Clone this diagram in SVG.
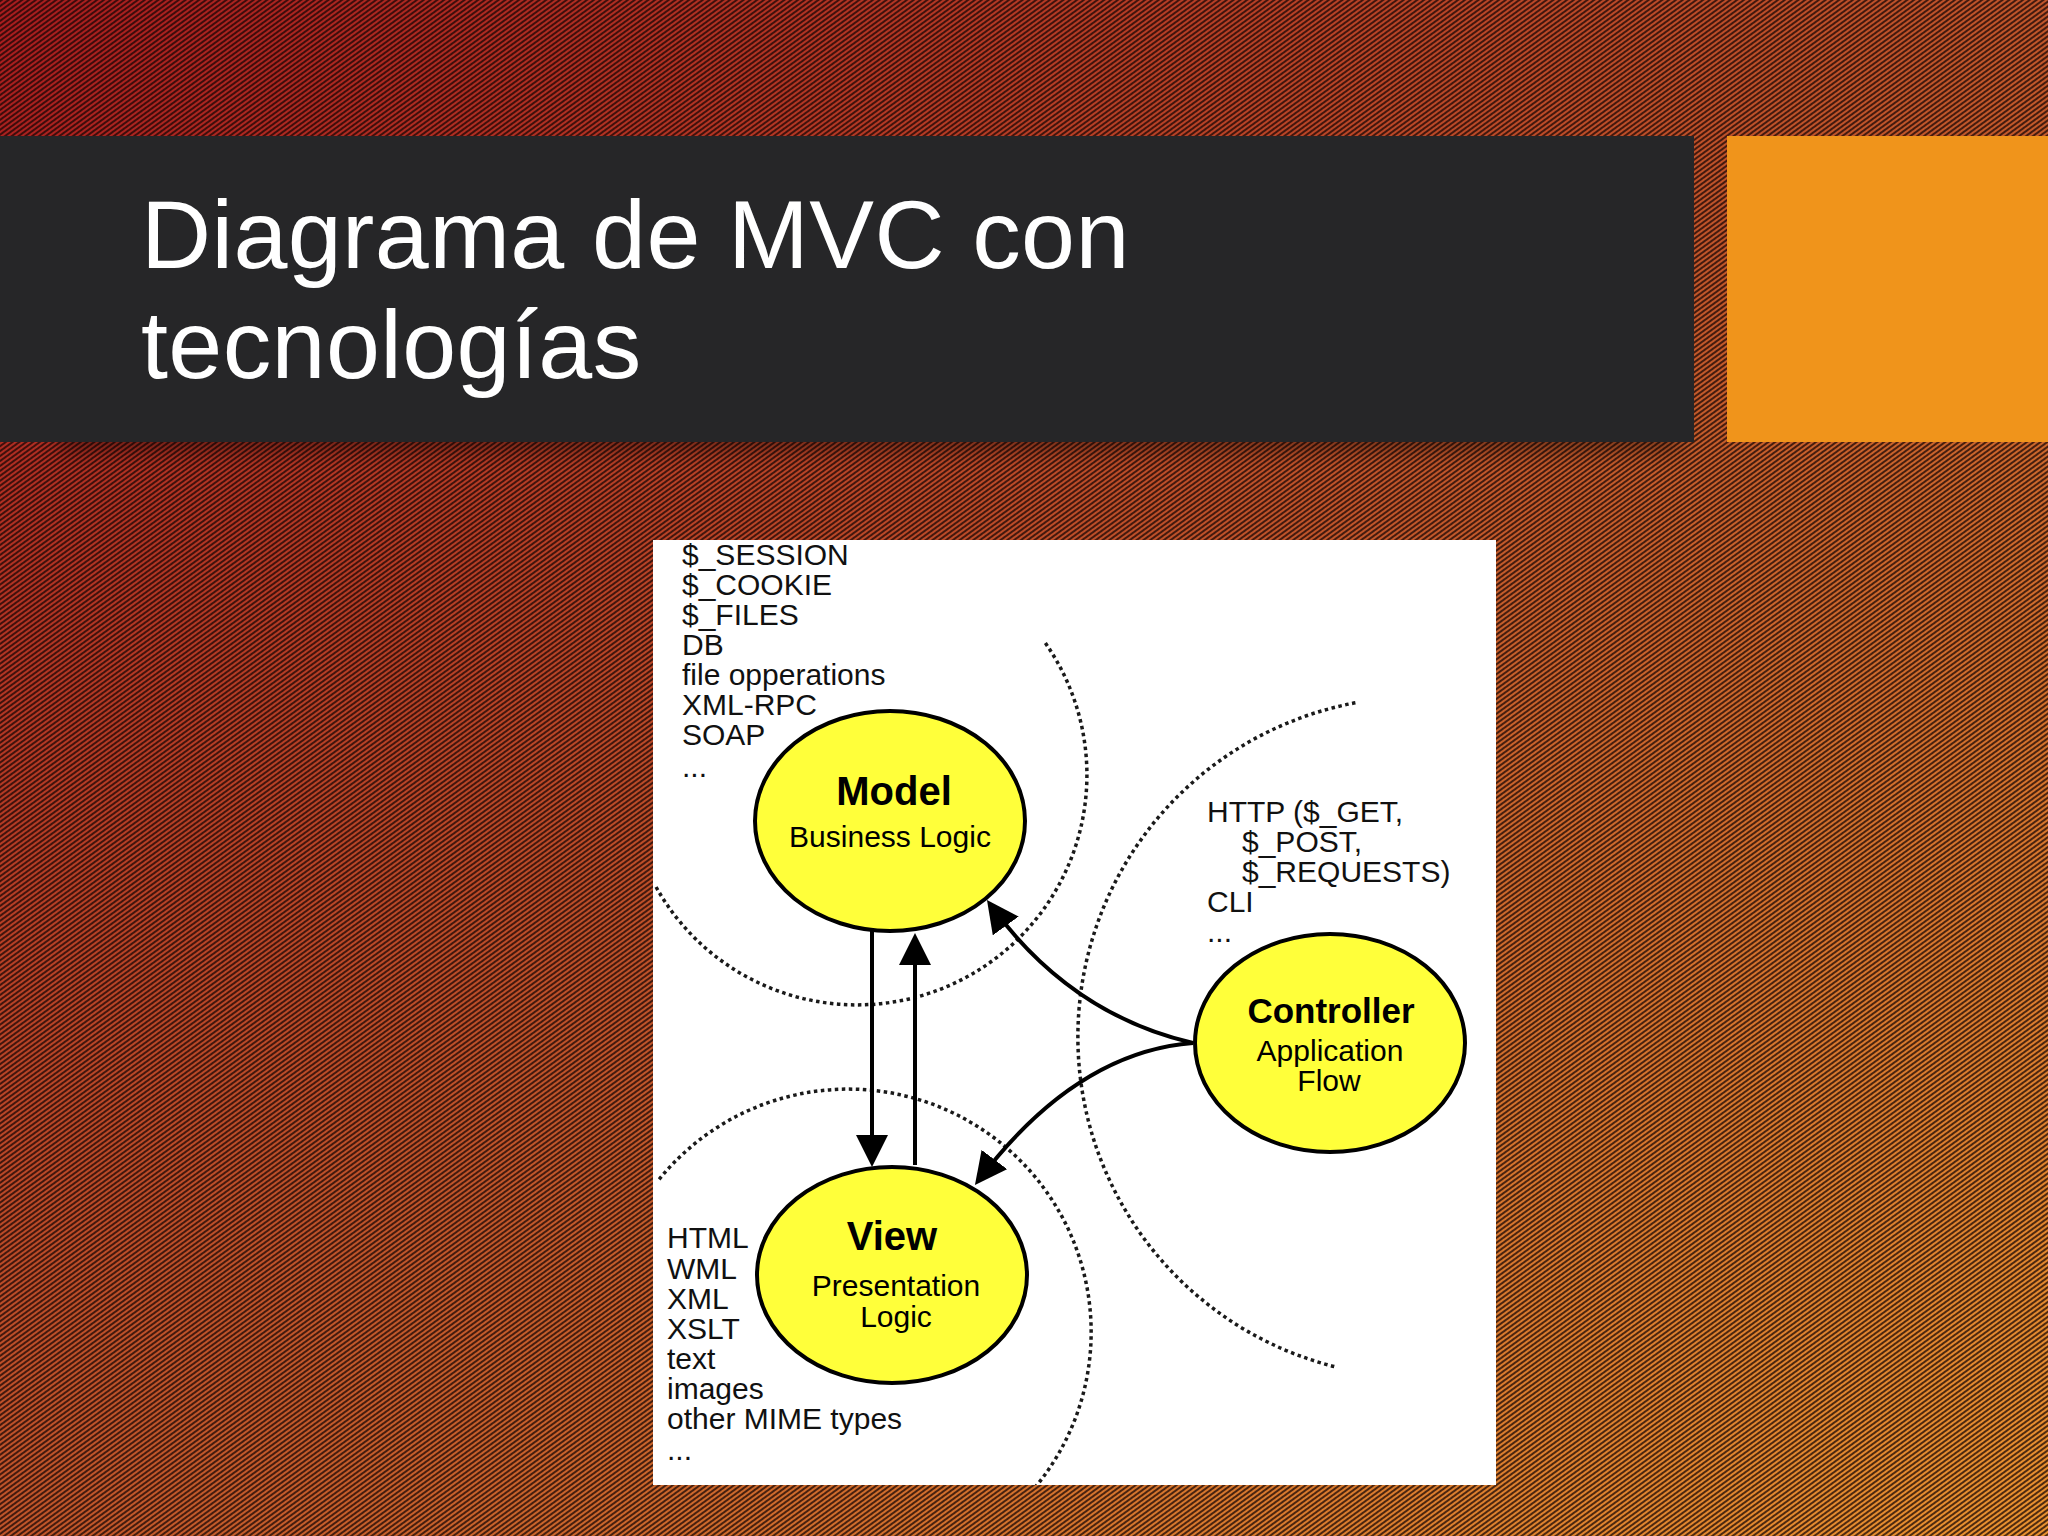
<svg xmlns="http://www.w3.org/2000/svg" width="2048" height="1536" viewBox="0 0 2048 1536">
  <defs>
    <linearGradient id="bgGrad" x1="0" y1="0" x2="1" y2="1">
      <stop offset="0" stop-color="#a81c1e"/>
      <stop offset="0.5" stop-color="#c0552a"/>
      <stop offset="1" stop-color="#ea9230"/>
    </linearGradient>
    <pattern id="hatch" patternUnits="userSpaceOnUse" width="12" height="4" patternTransform="rotate(-36)">
      <rect x="0" y="0" width="12" height="2" fill="#140404" opacity="0.72"/>
    </pattern>
    <marker id="arrow" markerUnits="userSpaceOnUse" viewBox="0 0 32 32" markerWidth="32" markerHeight="32" refX="26" refY="16" orient="auto">
      <path d="M0,0 L32,16 L0,32 z" fill="#000"/>
    </marker>
    <clipPath id="whiteClip">
      <rect x="653" y="540" width="843" height="945"/>
    </clipPath>
    <filter id="barShadow" x="-5%" y="-20%" width="110%" height="160%">
      <feGaussianBlur stdDeviation="10"/>
    </filter>
  </defs>
  <style>
    .title { font-family: "Liberation Sans", Arial, sans-serif; font-size: 97px; fill: #ffffff; letter-spacing: 0.4px; }
    .node ellipse { fill: #ffff3a; stroke: #000; stroke-width: 4; }
    .hd { font-family: "Liberation Sans", Arial, sans-serif; font-weight: bold; fill: #000; text-anchor: middle; }
    .sub { font-family: "Liberation Sans", Arial, sans-serif; font-size: 30px; fill: #000; text-anchor: middle; }
    .lbl { font-family: "Liberation Sans", Arial, sans-serif; font-size: 30px; fill: #111; }
    .dots { fill: none; stroke: #1a1a1a; stroke-width: 3.5; stroke-dasharray: 3.5 3.5; }
    .conn { fill: none; stroke: #000; stroke-width: 4; marker-end: url(#arrow); }
  </style>

  <!-- background -->
  <rect x="0" y="0" width="2048" height="1536" fill="url(#bgGrad)"/>
  <rect x="0" y="0" width="2048" height="1536" fill="url(#hatch)"/>

  <!-- title bar -->
  <rect x="60" y="405" width="1620" height="45" fill="#000" opacity="0.4" filter="url(#barShadow)"/>
  <rect x="0" y="136" width="1694" height="306" fill="#262628"/>
  <rect x="1727" y="136" width="321" height="306" fill="#f0941b"/>
  <text class="title" x="141" y="268">Diagrama de MVC con<tspan x="141" y="378">tecnologías</tspan></text>

  <!-- diagram panel -->
  <rect x="653" y="540" width="843" height="945" fill="#ffffff"/>

  <g id="zones" clip-path="url(#whiteClip)">
    <path class="dots" d="M1045.4,643.1 A230,230 0 1 1 655.8,886.5"/>
    <path class="dots" d="M659.2,1179.3 A243,243 0 1 1 1030.6,1492.6"/>
    <path class="dots" d="M1355.4,702.8 A340,340 0 0 0 1335.2,1366.8"/>
  </g>

  <g id="connectors">
    <path class="conn" d="M872,931 L872,1161"/>
    <path class="conn" d="M915,1165 L915,939"/>
    <path class="conn" d="M1193,1043 Q1070,1014.5 990.5,904.9"/>
    <path class="conn" d="M1193,1043 Q1076,1052 978.6,1180.2"/>
  </g>

  <g id="model" class="node">
    <ellipse cx="890" cy="821" rx="135" ry="110"/>
    <text class="hd" x="894" y="805" font-size="40">Model</text>
    <text class="sub" x="890" y="847">Business Logic</text>
  </g>

  <g id="view" class="node">
    <ellipse cx="892" cy="1275" rx="135" ry="108"/>
    <text class="hd" x="892" y="1250" font-size="40">View</text>
    <text class="sub" x="896" y="1296">Presentation</text>
    <text class="sub" x="896" y="1327">Logic</text>
  </g>

  <g id="controller" class="node">
    <ellipse cx="1330" cy="1043" rx="135" ry="109"/>
    <text class="hd" x="1331" y="1023" font-size="35">Controller</text>
    <text class="sub" x="1330" y="1061">Application</text>
    <text class="sub" x="1329" y="1091">Flow</text>
  </g>

  <g id="model-tech">
    <text class="lbl" x="682" y="565">$_SESSION</text>
    <text class="lbl" x="682" y="595">$_COOKIE</text>
    <text class="lbl" x="682" y="625">$_FILES</text>
    <text class="lbl" x="682" y="655">DB</text>
    <text class="lbl" x="682" y="685">file opperations</text>
    <text class="lbl" x="682" y="715">XML-RPC</text>
    <text class="lbl" x="682" y="745">SOAP</text>
    <text class="lbl" x="682" y="777">...</text>
  </g>

  <g id="controller-tech">
    <text class="lbl" x="1207" y="822">HTTP ($_GET,</text>
    <text class="lbl" x="1242" y="852">$_POST,</text>
    <text class="lbl" x="1242" y="882">$_REQUESTS)</text>
    <text class="lbl" x="1207" y="912">CLI</text>
    <text class="lbl" x="1207" y="942">...</text>
  </g>

  <g id="view-tech">
    <text class="lbl" x="667" y="1248">HTML</text>
    <text class="lbl" x="667" y="1279">WML</text>
    <text class="lbl" x="667" y="1309">XML</text>
    <text class="lbl" x="667" y="1339">XSLT</text>
    <text class="lbl" x="667" y="1369">text</text>
    <text class="lbl" x="667" y="1399">images</text>
    <text class="lbl" x="667" y="1429">other MIME types</text>
    <text class="lbl" x="667" y="1460">...</text>
  </g>
</svg>
